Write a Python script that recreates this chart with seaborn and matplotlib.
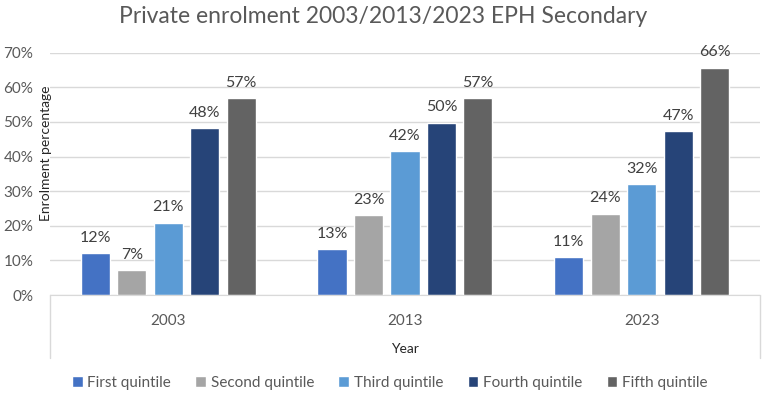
import numpy as np
import pandas as pd
import matplotlib
matplotlib.use("Agg")
import matplotlib.pyplot as plt
from matplotlib.lines import Line2D
from matplotlib.ticker import PercentFormatter
import seaborn as sns

# 데이터
years = ["2003", "2013", "2023"]
quintiles = ["First quintile", "Second quintile", "Third quintile",
             "Fourth quintile", "Fifth quintile"]
first_q = [12.0, 13.2, 11.0]
second_q = [7.2, 23.0, 23.5]
third_q = [20.9, 41.6, 32.1]
fourth_q = [48.1, 49.8, 47.3]
fifth_q = [56.9, 56.8, 65.7]
colors = ["#4472C4", "#A5A5A5", "#5B9BD5", "#264478", "#636363"]

df = pd.DataFrame({"Year": years, quintiles[0]: first_q, quintiles[1]: second_q,
                   quintiles[2]: third_q, quintiles[3]: fourth_q, quintiles[4]: fifth_q})
df = df.melt(id_vars="Year", var_name="Quintile", value_name="Pct")
df["Pct"] = df["Pct"] / 100

sns.set_style("white")
plt.rcParams["font.family"] = ["Lato", "DejaVu Sans"]

fig = plt.figure(figsize=(7.67, 3.96), dpi=100)
ax = fig.add_axes([0.065, 0.255, 0.926, 0.612])

sns.barplot(data=df, x="Year", y="Pct", hue="Quintile", hue_order=quintiles,
            palette=colors, saturation=1, width=0.77, gap=0.2, ax=ax, legend=True)

ax.set_ylim(0, 0.7)
ax.set_yticks(np.arange(0, 0.71, 0.1))
ax.yaxis.set_major_formatter(PercentFormatter(1.0, decimals=0))
ax.grid(axis="y", color="#D9D9D9", linewidth=1)
ax.set_axisbelow(True)
for s in ["top", "right", "left"]:
    ax.spines[s].set_visible(False)
ax.spines["bottom"].set_color("#D9D9D9")
ax.tick_params(axis="both", length=0, labelsize=11, labelcolor="#595959")
ax.tick_params(axis="x", pad=14)
ax.tick_params(axis="y", pad=12)

# 값 레이블
for cont in ax.containers:
    ax.bar_label(cont, labels=[f"{v*100:.0f}%" for v in cont.datavalues],
                 padding=6, fontsize=11.5, color="#404040")

ax.set_ylabel("Enrolment percentage", fontsize=10, color="#262626")
ax.yaxis.set_label_coords(0.003, 0.586)
ax.set_xlabel("Year", fontsize=10, color="#262626")
ax.xaxis.set_label_coords(0.5, -0.2)

# 카테고리 축 테두리 (엑셀 스타일)
for xx in [0, 1]:
    ax.add_line(Line2D([xx, xx], [0, -0.26], transform=ax.transAxes,
                       color="#D9D9D9", linewidth=1, clip_on=False))

fig.suptitle("Private enrolment 2003/2013/2023 EPH Secondary", fontsize=16.5,
             color="#595959", y=0.985)

handles, labels = ax.get_legend_handles_labels()
ax.legend_.remove()
fig.legend(handles, labels, loc="center", bbox_to_anchor=(0.508, 0.033), ncol=5,
           frameon=False, fontsize=11, handlelength=0.7, handleheight=0.7,
           handletextpad=0.3, columnspacing=1.6, labelcolor="#595959")

fig.savefig("out.png", dpi=100)
